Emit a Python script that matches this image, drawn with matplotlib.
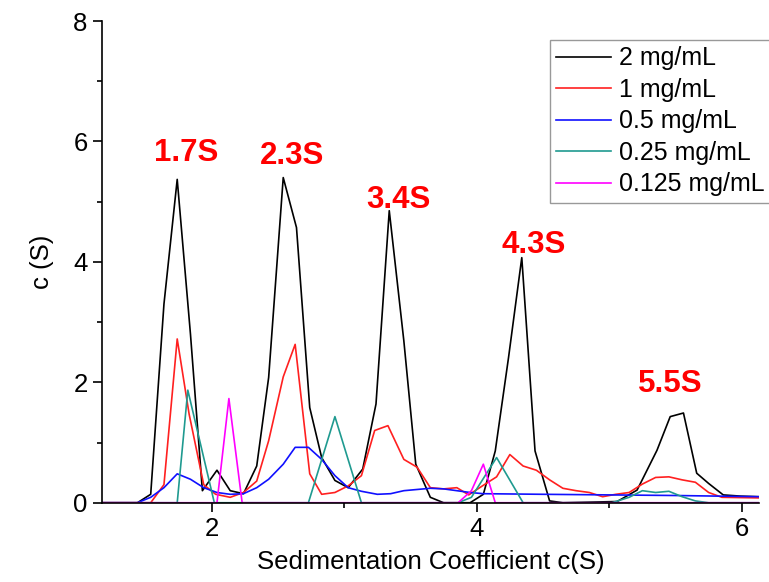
import matplotlib
matplotlib.use('Agg')
import matplotlib.pyplot as plt
from matplotlib.ticker import MultipleLocator

plt.rcParams['font.family'] = ['Liberation Sans', 'DejaVu Sans']

# ── DATA ─────────────────────────────────────────────────────────────────
X_2 = [1.17, 1.44, 1.54, 1.64, 1.74, 1.84, 1.93, 2.04, 2.14, 2.24, 2.34, 2.43,
       2.54, 2.64, 2.74, 2.83, 2.93, 3.03, 3.14, 3.24, 3.34, 3.45, 3.54, 3.65,
       3.75, 3.85, 3.95, 4.05, 4.14, 4.24, 4.34, 4.44, 4.55, 4.65, 5.06, 5.21,
       5.36, 5.46, 5.56, 5.66, 5.75, 5.86, 5.99, 6.13]
Y_2 = [0.0, 0.0, 0.14, 3.30, 5.37, 2.80, 0.20, 0.54, 0.20, 0.15, 0.61, 2.08,
       5.40, 4.57, 1.58, 0.75, 0.37, 0.25, 0.56, 1.64, 4.85, 2.69, 0.64, 0.09,
       0.0, 0.0, 0.0, 0.14, 0.86, 2.41, 4.07, 0.86, 0.03, 0.0, 0.02, 0.21,
       0.87, 1.43, 1.49, 0.49, 0.32, 0.13, 0.11, 0.10]

X_1 = [1.17, 1.44, 1.54, 1.64, 1.74, 1.83, 1.94, 2.03, 2.14, 2.24, 2.34, 2.43,
       2.54, 2.63, 2.74, 2.83, 2.93, 3.03, 3.13, 3.23, 3.33, 3.45, 3.55, 3.65,
       3.75, 3.85, 3.94, 4.05, 4.15, 4.25, 4.35, 4.45, 4.55, 4.65, 4.75, 4.85,
       4.95, 5.05, 5.15, 5.25, 5.35, 5.45, 5.55, 5.65, 5.75, 5.85, 6.13]
Y_1 = [0.0, 0.0, 0.0, 0.30, 2.72, 1.47, 0.30, 0.14, 0.09, 0.17, 0.36, 1.03,
       2.09, 2.63, 0.48, 0.14, 0.17, 0.28, 0.45, 1.20, 1.28, 0.72, 0.59, 0.25,
       0.23, 0.25, 0.13, 0.29, 0.43, 0.80, 0.61, 0.54, 0.38, 0.24, 0.20, 0.17,
       0.10, 0.14, 0.17, 0.31, 0.42, 0.43, 0.38, 0.34, 0.17, 0.09, 0.08]

X_05 = [1.17, 1.44, 1.54, 1.64, 1.74, 1.84, 1.94, 2.04, 2.14, 2.24, 2.34, 2.43,
        2.54, 2.63, 2.73, 2.83, 2.93, 3.03, 3.13, 3.25, 3.35, 3.45, 3.55, 3.65,
        3.75, 3.85, 3.95, 4.05, 4.50, 5.00, 5.50, 6.13]
Y_05 = [0.0, 0.0, 0.09, 0.25, 0.48, 0.39, 0.25, 0.17, 0.14, 0.15, 0.25, 0.39,
        0.64, 0.92, 0.92, 0.72, 0.45, 0.25, 0.19, 0.14, 0.15, 0.20, 0.22, 0.24,
        0.23, 0.20, 0.17, 0.15, 0.14, 0.13, 0.12, 0.10]

X_025 = [1.17, 1.74, 1.82, 2.02, 2.73, 2.93, 3.13, 3.86, 3.96, 4.15, 4.35,
         5.02, 5.15, 5.25, 5.35, 5.45, 5.55, 5.65, 5.75, 6.13]
Y_025 = [0.0, 0.0, 1.87, 0.0, 0.0, 1.43, 0.0, 0.0, 0.09, 0.75, 0.0,
         0.0, 0.09, 0.20, 0.17, 0.19, 0.10, 0.03, 0.0, 0.0]

X_0125 = [1.17, 2.04, 2.13, 2.23, 3.86, 3.96, 4.05, 4.14, 6.13]
Y_0125 = [0.0, 0.0, 1.73, 0.0, 0.0, 0.20, 0.64, 0.0, 0.0]

SERIES = [
    (X_2, Y_2, 'black', '2 mg/mL'),
    (X_1, Y_1, '#ff2020', '1 mg/mL'),
    (X_05, Y_05, '#1010ff', '0.5 mg/mL'),
    (X_025, Y_025, '#1f9a90', '0.25 mg/mL'),
    (X_0125, Y_0125, '#ff00ff', '0.125 mg/mL'),
]

PEAK_LABELS = ['1.7S', '2.3S', '3.4S', '4.3S', '5.5S']
PEAK_X = [1.81, 2.61, 3.41, 4.43, 5.46]
PEAK_Y = [5.81, 5.75, 5.03, 4.28, 1.98]

# ── PLOT ─────────────────────────────────────────────────────────────────
fig = plt.figure(figsize=(7.69, 5.82), dpi=100)
ax = fig.add_axes([0.1329, 0.1362, 0.8541, 0.8277])

for xs, ys, col, lab in SERIES:
    ax.plot(xs, ys, color=col, lw=1.2, label=lab)

for lab, px, py in zip(PEAK_LABELS, PEAK_X, PEAK_Y):
    ax.text(px, py, lab, color='#ff0000', fontsize=22.5, fontweight='bold',
            ha='center', va='center')

ax.set_xlim(1.174, 6.13)
ax.set_ylim(0, 8)
ax.xaxis.set_major_locator(MultipleLocator(2))
ax.xaxis.set_minor_locator(MultipleLocator(1))
ax.yaxis.set_major_locator(MultipleLocator(2))
ax.yaxis.set_minor_locator(MultipleLocator(1))
ax.tick_params(which='major', direction='out', length=6.5, width=1.2,
               labelsize=18.5, pad=4)
ax.tick_params(which='minor', direction='out', length=3.5, width=1.2)
ax.spines['top'].set_visible(False)
ax.spines['right'].set_visible(False)
for sp in ('left', 'bottom'):
    ax.spines[sp].set_linewidth(1.2)

ax.set_xlabel('Sedimentation Coefficient c(S)', fontsize=18.5, labelpad=6)
ax.set_ylabel('c (S)', fontsize=18.5, labelpad=14)

leg = ax.legend(loc='upper left', bbox_to_anchor=(550 / 769, 1 - 40 / 582),
                bbox_transform=fig.transFigure, fontsize=18, frameon=True,
                fancybox=False, edgecolor='#808080', borderaxespad=0,
                borderpad=0.25, labelspacing=0.3, handlelength=2.2,
                handletextpad=0.3)
leg.get_frame().set_linewidth(1.0)

fig.savefig('out.png', dpi=100, facecolor='white')
